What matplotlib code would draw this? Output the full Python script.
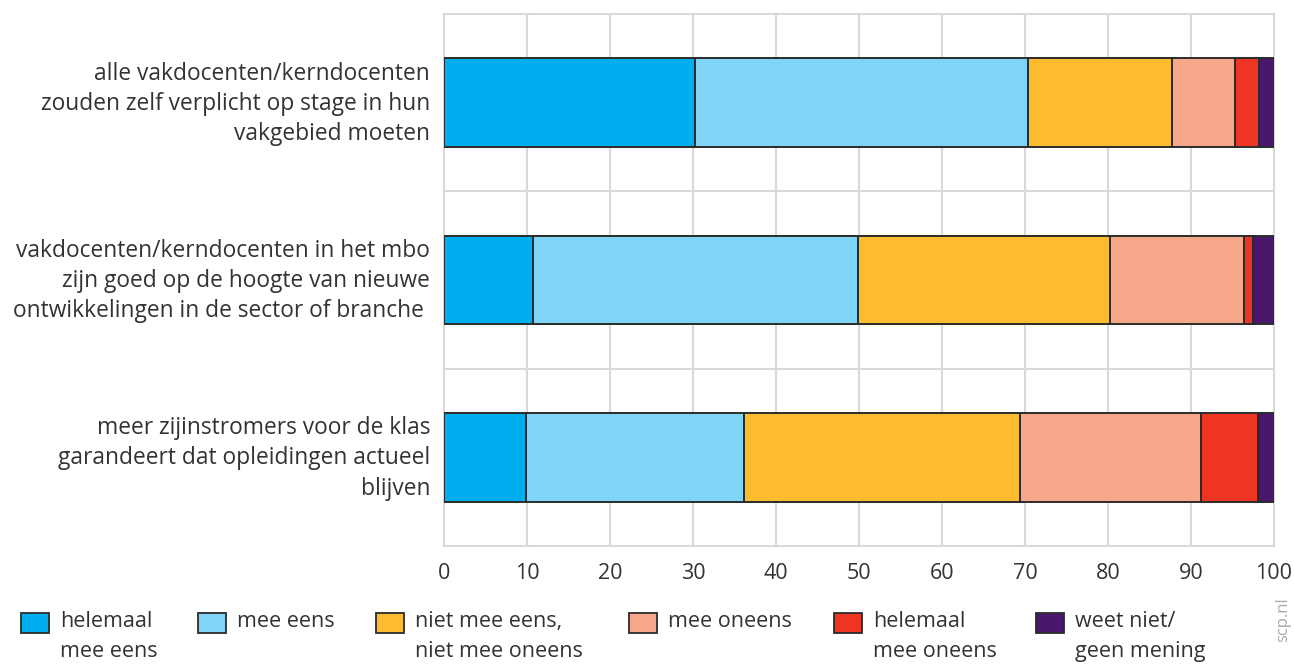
import matplotlib.pyplot as plt
from matplotlib.patches import Rectangle
from matplotlib.transforms import ScaledTranslation

plt.rcParams['font.family'] = ['Open Sans', 'DejaVu Sans']

# statements (top to bottom)
statements = [
    "alle vakdocenten/kerndocenten\nzouden zelf verplicht op stage in hun\nvakgebied moeten",
    "vakdocenten/kerndocenten in het mbo\nzijn goed op de hoogte van nieuwe\nontwikkelingen in de sector of branche ",
    "meer zijinstromers voor de klas\ngarandeert dat opleidingen actueel\nblijven",
]

# answer categories
answers = [
    "helemaal\nmee eens",
    "mee eens",
    "niet mee eens,\nniet mee oneens",
    "mee oneens",
    "helemaal\nmee oneens",
    "weet niet/\ngeen mening",
]
colors = ["#00aeef", "#80d4f7", "#fdbb30", "#f7a78a", "#ee3524", "#4b176d"]

# percentages per answer, one value per statement
helemaal_eens = [30.2, 10.7, 9.9]
eens = [40.2, 39.2, 26.3]
neutraal = [17.3, 30.3, 33.2]
oneens = [7.6, 16.2, 21.8]
helemaal_oneens = [2.9, 1.1, 6.9]
weet_niet = [1.8, 2.5, 1.9]
series = [helemaal_eens, eens, neutraal, oneens, helemaal_oneens, weet_niet]

xticks = [0, 10, 20, 30, 40, 50, 60, 70, 80, 90, 100]

text_col = "#333333"
grid_col = "#d9d9d9"
W, H = 1294, 668

fig = plt.figure(figsize=(W / 100, H / 100), dpi=100)
ax = fig.add_axes([444 / W, 1 - 546 / H, (1274 - 444) / W, (546 - 14) / H])

ypos = list(range(len(statements)))
left = [0.0] * len(statements)
for vals, col in zip(series, colors):
    ax.barh(ypos, vals, left=left, height=0.5, color=col,
            edgecolor="#2b2b2b", linewidth=1.4, zorder=3)
    left = [l + v for l, v in zip(left, vals)]

ax.set_xlim(0, 100)
ax.set_ylim(2.5, -0.5)
ax.set_xticks(xticks)
ax.set_xticklabels([str(t) for t in xticks], fontsize=15.5, color=text_col)
ax.set_yticks(ypos)
ax.set_yticklabels(statements, fontsize=16.4, color=text_col, linespacing=1.35)
ax.set_yticks([0.5, 1.5], minor=True)
ax.tick_params(axis='both', which='both', length=0)
ax.tick_params(axis='x', pad=12)
ax.tick_params(axis='y', pad=10)
# nudge the multi-line labels up a little so they sit centred on the bars
shift = ScaledTranslation(0, 5 / 100, fig.dpi_scale_trans)
for lbl in ax.get_yticklabels():
    lbl.set_transform(lbl.get_transform() + shift)
ax.grid(axis='x', color=grid_col, linewidth=1.5, zorder=0)
ax.grid(axis='y', which='minor', color=grid_col, linewidth=1.5, zorder=0)
ax.set_axisbelow(True)
for sp in ax.spines.values():
    sp.set_color(grid_col)
    sp.set_linewidth(1.5)

# legend, placed by hand
text_x = [60, 237, 415, 668, 873, 1075]
for tx, lab, col in zip(text_x, answers, colors):
    fig.patches.append(Rectangle(((tx - 39) / W, 1 - 633 / H), 28 / W, 20 / H,
                                 transform=fig.transFigure, facecolor=col,
                                 edgecolor="#2b2b2b", linewidth=1.3))
    fig.text(tx / W, 1 - 611 / H, lab, fontsize=15.5, color=text_col,
             va='top', ha='left', linespacing=1.55)

fig.text(1283 / W, 1 - 620 / H, "scp.nl", rotation=90, fontsize=12,
         color="#aaaaaa", ha='center', va='center')

fig.savefig("out.png", dpi=100)
